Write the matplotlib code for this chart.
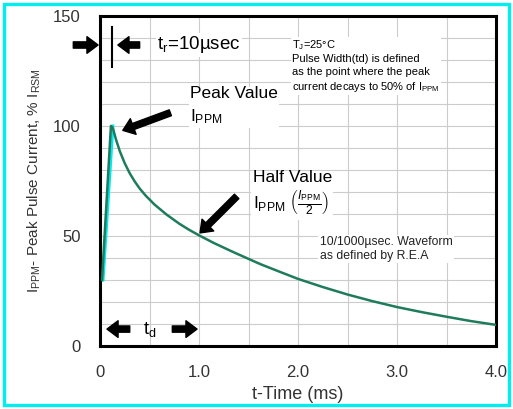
import matplotlib.pyplot as plt
from matplotlib.patches import Rectangle
from matplotlib.ticker import MultipleLocator

# Waveform (time in ms, % of IRSM)
time_ms = [0.02, 0.11, 0.13, 0.16, 0.20, 0.25, 0.30, 0.35, 0.40, 0.46, 0.55, 0.67, 0.80,
           0.90, 1.00, 1.15, 1.35, 1.62, 1.80, 2.00, 2.25, 2.50, 2.75, 3.00, 3.25, 3.50,
           3.75, 4.00]
current = [30, 100, 99, 94, 88.5, 83, 78.5, 74.8, 71.6, 68.4, 64.3, 59.8, 55.6,
           52.8, 50.3, 46.8, 42.6, 37.2, 34.0, 30.5, 26.8, 23.4, 20.4, 17.7, 15.4, 13.3,
           11.3, 9.6]

# Cyan highlight on the rising edge
rise_t = [0.03, 0.13]
rise_i = [30, 100]

x_ticks = [0, 1.0, 2.0, 3.0, 4.0]
x_tick_labels = ["0", "1.0", "2.0", "3.0", "4.0"]
y_ticks = [0, 50, 100, 150]

plt.rcParams['font.family'] = ['Liberation Sans', 'DejaVu Sans']
plt.rcParams['mathtext.fontset'] = 'custom'
plt.rcParams['mathtext.rm'] = 'Liberation Sans'
plt.rcParams['mathtext.it'] = 'Liberation Sans:italic'
plt.rcParams['mathtext.bf'] = 'Liberation Sans:bold'

fig = plt.figure(figsize=(5.13, 4.09), dpi=100)
ax = fig.add_axes([0.195, 0.154, 0.772, 0.807])

# Cyan frame round the whole picture
fig.patches.append(Rectangle((0.008, 0.01), 0.985, 0.98, transform=fig.transFigure,
                             fill=False, edgecolor='#00eef0', lw=2.4))

ax.plot(time_ms, current, color='#1e7b5c', lw=1.8, zorder=3)
ax.plot(rise_t, rise_i, color='#00e8f0', lw=2.2, zorder=2)

ax.set_xlim(0, 4.0)
ax.set_ylim(0, 150)
ax.set_xticks(x_ticks)
ax.set_xticklabels(x_tick_labels)
ax.set_yticks(y_ticks)
ax.xaxis.set_minor_locator(MultipleLocator(0.5))
ax.yaxis.set_minor_locator(MultipleLocator(10))
ax.grid(True, which='both', color='#cccccc', lw=0.8, zorder=0)
ax.set_axisbelow(True)
ax.tick_params(which='both', length=0)
ax.tick_params(axis='x', pad=14, labelsize=12, labelcolor='#333333')
ax.tick_params(axis='y', pad=14, labelsize=12, labelcolor='#333333')
for s in ax.spines.values():
    s.set_linewidth(2.2)
    s.set_color('black')

ax.set_xlabel("t-Time (ms)", fontsize=13, color='#333333', labelpad=4)
ax.set_ylabel(r"I$_{\rm PPM}$- Peak Pulse Current, % I$_{\rm RSM}$", fontsize=11,
              color='#333333', labelpad=7)

arrow = dict(arrowstyle='simple,head_length=0.8,head_width=1.2,tail_width=0.45',
             color='black', shrinkA=0, shrinkB=0)
box = dict(facecolor='white', edgecolor='none', pad=1)

# tr marker
ax.annotate("", xy=(-0.02, 136.8), xytext=(-0.27, 136.8), arrowprops=arrow,
            annotation_clip=False)
ax.annotate("", xy=(0.18, 136.8), xytext=(0.40, 136.8), arrowprops=arrow)
ax.plot([0.12, 0.12], [127, 145], color='black', lw=1.5)
ax.text(0.58, 136.8, r"t$_{\rm r}$=10µsec", fontsize=13.5, va='center', bbox=box)

# peak value
ax.text(0.91, 118, "Peak Value\n" + r"I$_{\rm PPM}$", fontsize=12.5, va='top',
        linespacing=1.45, bbox=box)
ax.annotate("", xy=(0.23, 98), xytext=(0.71, 106), arrowprops=arrow)

# half value
ax.text(1.54, 80, "Half Value\n" + r"I$_{\rm PPM}$ $\left(\frac{I_{\rm PPM}}{2}\right)$",
        fontsize=12.5, va='top', linespacing=1.2, bbox=box)
ax.annotate("", xy=(1.01, 51.4), xytext=(1.38, 68), arrowprops=arrow)

# notes
ax.text(1.94, 140, "T$_{\\rm J}$=25°C\nPulse Width(td) is defined\n"
        "as the point where the peak\ncurrent decays to 50% of I$_{\\rm PPM}$",
        fontsize=8, va='top', linespacing=1.3, bbox=box)
ax.text(2.22, 50, "10/1000µsec. Waveform\nas defined by R.E.A",
        fontsize=8.8, va='top', color='#222222', linespacing=1.2, bbox=box)

# td marker
ax.annotate("", xy=(0.07, 7.7), xytext=(0.30, 7.7), arrowprops=arrow)
ax.annotate("", xy=(0.98, 7.7), xytext=(0.73, 7.7), arrowprops=arrow)
ax.text(0.43, 7.7, r"t$_{\rm d}$", fontsize=13, va='center')

fig.savefig("out.png", dpi=100)
